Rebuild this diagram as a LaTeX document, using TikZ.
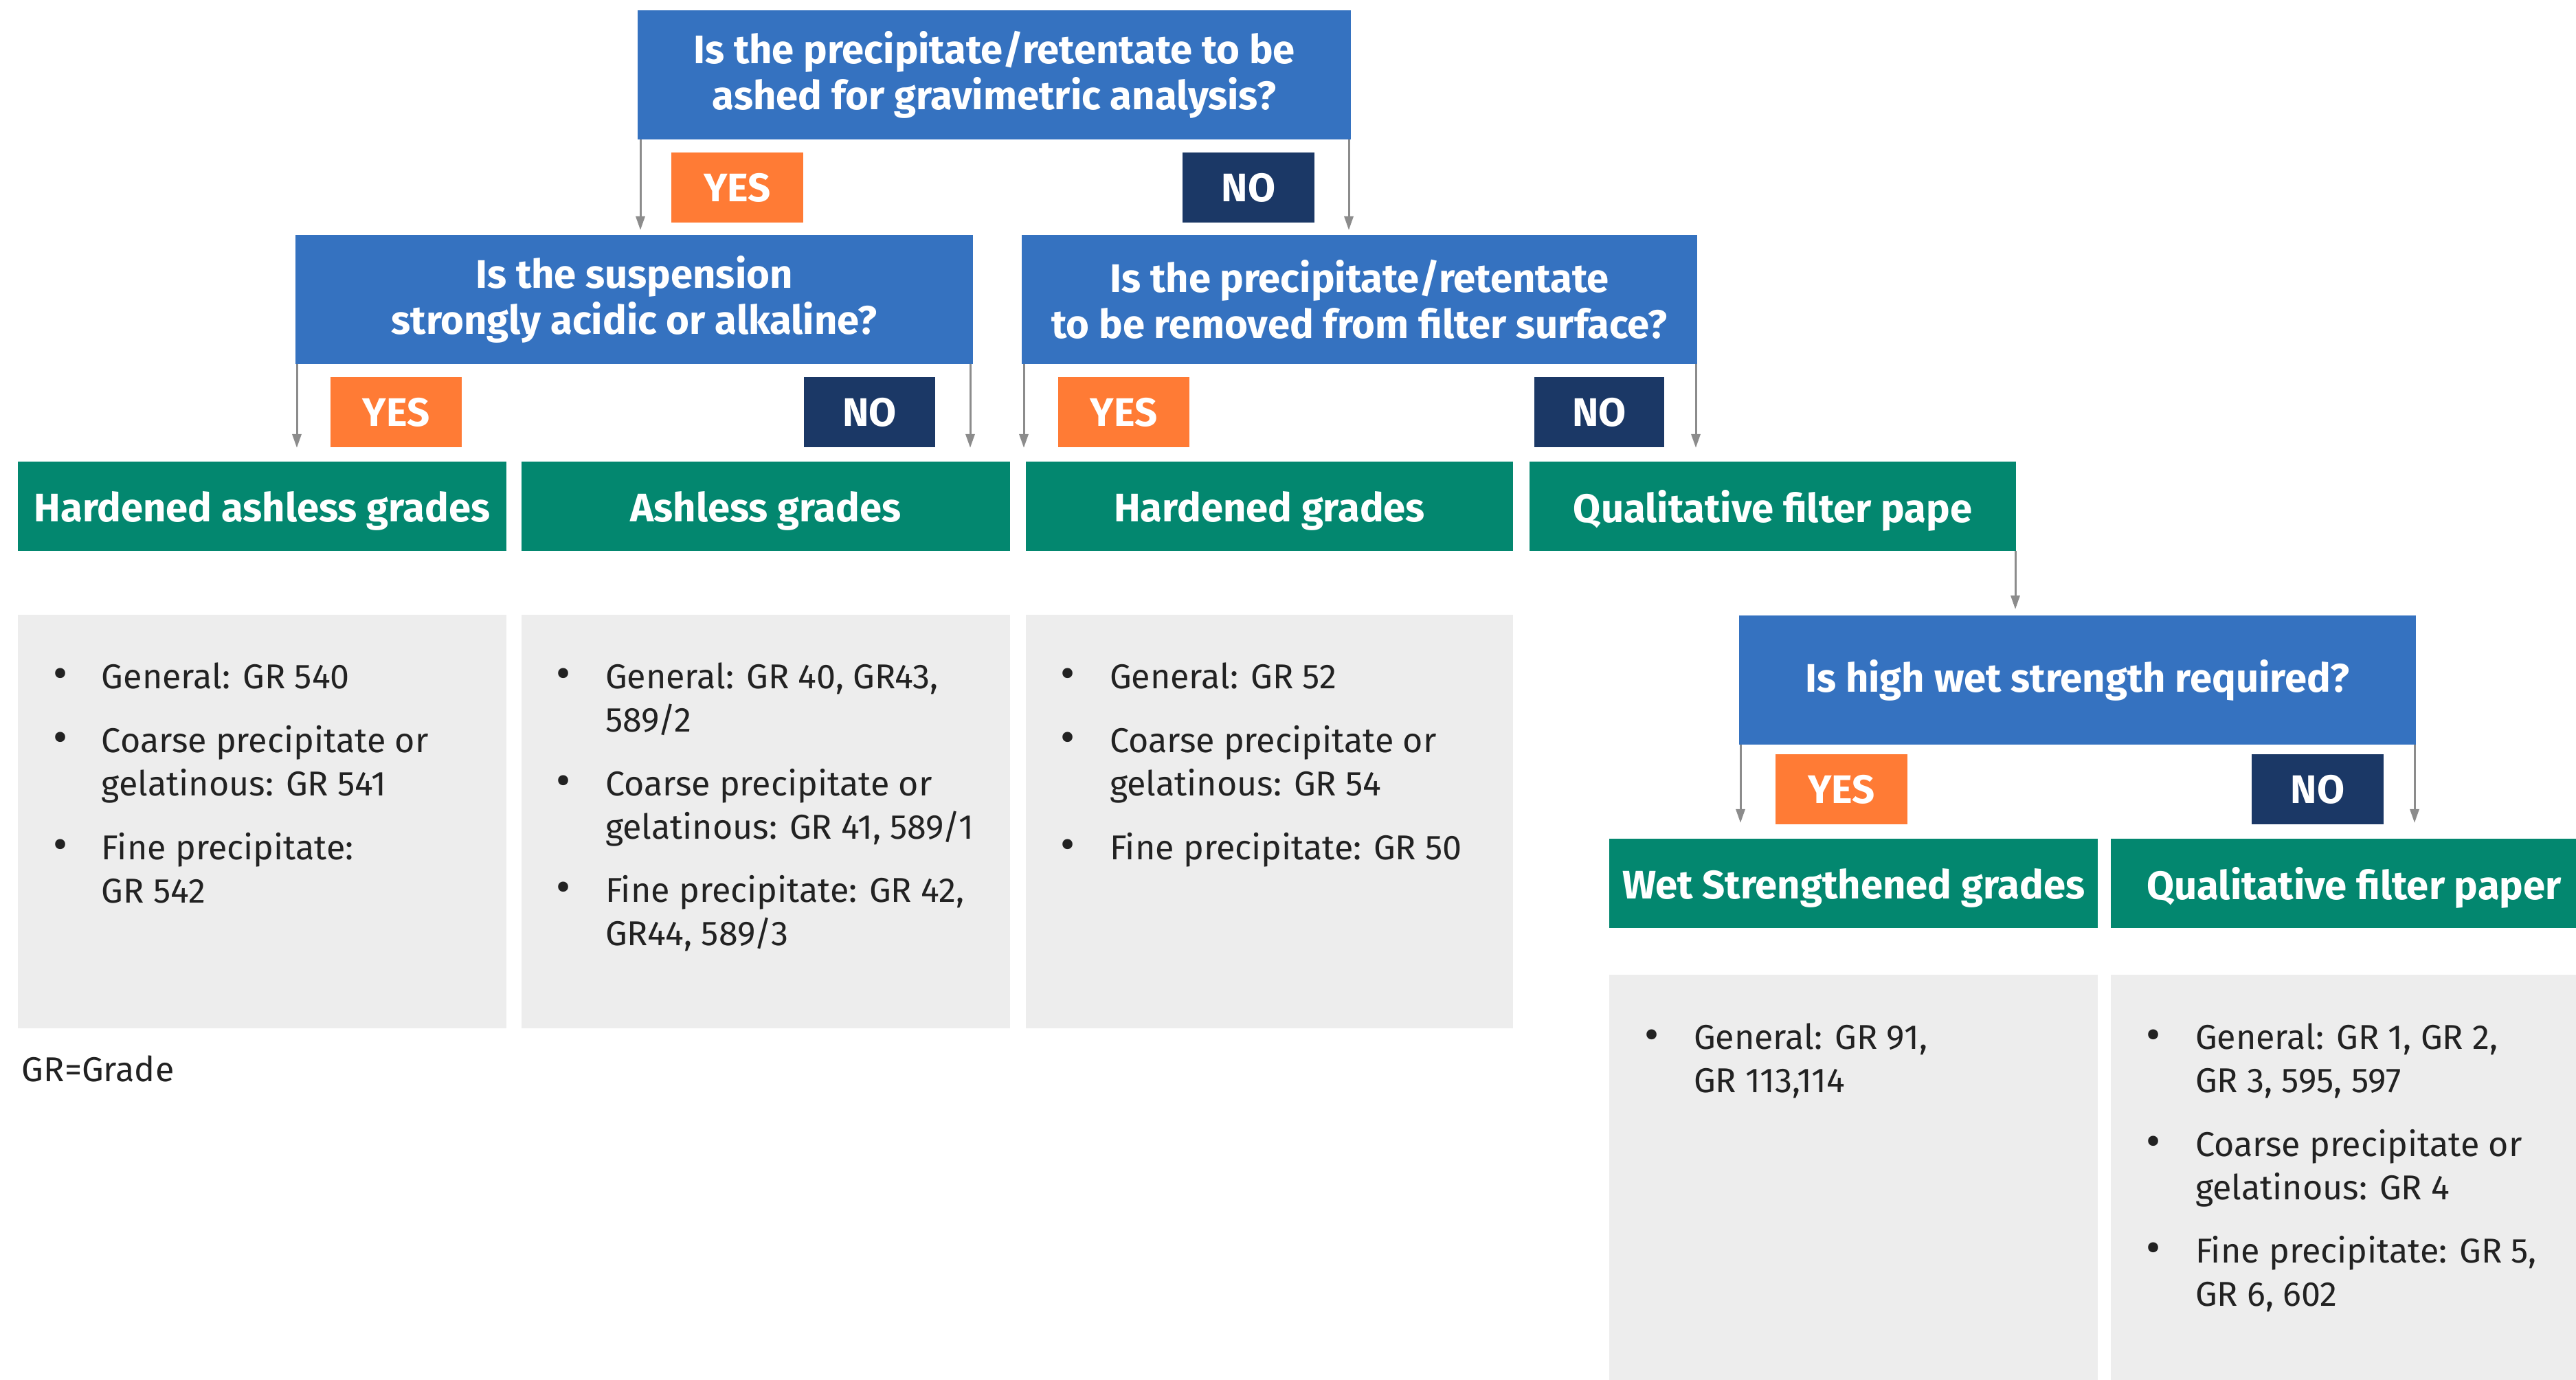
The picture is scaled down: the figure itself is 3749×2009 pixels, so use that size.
\documentclass[tikz,border=0pt]{standalone}
\usepackage{fontspec}
\setmainfont{Fira Sans}
\usetikzlibrary{arrows.meta}
\definecolor{qblue}{HTML}{3572C0}
\definecolor{yorange}{HTML}{FF7B35}
\definecolor{nnavy}{HTML}{1B3866}
\definecolor{ggreen}{HTML}{03876F}
\definecolor{lgray}{HTML}{EDEDED}
\definecolor{agray}{HTML}{8C8C8C}
\definecolor{txt}{HTML}{222222}
\newcommand\bx[7]{\node[#6,minimum width={(#4-#2)*0.2pt},minimum height={(#5-#3)*0.2pt}] (#1) at ({(#2+#4)/2},{(#3+#5)/2}) {#7};}
\newcommand\hfont{\fontsize{11.6}{13.4}\selectfont\bfseries}
\newcommand\bfont{\fontsize{10.05}{12.6}\selectfont}
\newcommand\dotfont{\fontsize{13}{12.6}\selectfont}
\tikzset{
  base/.style={rectangle, inner sep=0pt, outer sep=0pt},
  qbox/.style={base, fill=qblue, text=white, font=\hfont, align=center},
  yesbox/.style={base, fill=yorange, text=white, font=\hfont},
  nobox/.style={base, fill=nnavy, text=white, font=\hfont},
  gbox/.style={base, fill=ggreen, text=white, font=\hfont, text depth=0pt},
  panel/.style={base, fill=lgray},
  arr/.style={draw=agray, line width=0.6pt, -{Triangle[width=2.6pt,length=4pt]}},
  bul/.style={anchor=base, inner sep=0pt, text=txt, font=\dotfont},
  itm/.style={anchor=base west, inner sep=0pt, text=txt, align=left, font=\bfont},
}
\begin{document}
\begin{tikzpicture}[x=0.2pt,y=-0.2pt]
\useasboundingbox (0,0) rectangle (3749,2009);
% questions
\bx{q1}{928}{15}{1966}{203}{qbox}{Is the precipitate/retentate to be\\ashed for gravimetric analysis?}
\bx{q2}{430}{342}{1416}{530}{qbox}{Is the suspension\\strongly acidic or alkaline?}
\bx{q3}{1487}{342}{2470}{530}{qbox}{Is the precipitate/retentate\\to be removed from filter surface?}
\bx{q4}{2531}{896}{3516}{1084}{qbox}{Is high wet strength required?}
% yes / no labels
\bx{y1}{977}{222}{1169}{324}{yesbox}{YES}
\bx{n1}{1721}{222}{1913}{324}{nobox}{NO}
\bx{y2}{481}{549}{672}{651}{yesbox}{YES}
\bx{n2}{1170}{549}{1361}{651}{nobox}{NO}
\bx{y3}{1540}{549}{1731}{651}{yesbox}{YES}
\bx{n3}{2233}{549}{2422}{651}{nobox}{NO}
\bx{y4}{2584}{1098}{2776}{1200}{yesbox}{YES}
\bx{n4}{3277}{1098}{3469}{1200}{nobox}{NO}
% green result boxes
\bx{g1}{26}{672}{737}{802}{gbox}{Hardened ashless grades}
\bx{g2}{759}{672}{1470}{802}{gbox}{Ashless grades}
\bx{g3}{1493}{672}{2202}{802}{gbox}{Hardened grades}
\bx{g4}{2226}{672}{2934}{802}{gbox}{Qualitative filter pape}
\bx{g5}{2342}{1221}{3053}{1351}{gbox}{Wet Strengthened grades}
\bx{g6}{3072}{1221}{3749}{1351}{gbox}{}
\node[font=\hfont, text=white, inner sep=0pt, text depth=0pt] (g6t) at (3426,1286) {Qualitative filter paper};
% panels
\bx{p1}{26}{895}{737}{1497}{panel}{}
\bx{p2}{759}{895}{1470}{1497}{panel}{}
\bx{p3}{1493}{895}{2202}{1497}{panel}{}
\bx{p5}{2342}{1419}{3053}{2009}{panel}{}
\bx{p6}{3072}{1419}{3749}{2009}{panel}{}
% arrows
\draw[arr,shorten >=1.4pt] ([xshift=0.8pt]q1.south west) -- ([xshift=0.8pt]q1.south west |- q2.north);
\draw[arr,shorten >=1.4pt] ([xshift=-0.6pt]q1.south east) -- ([xshift=-0.6pt]q1.south east |- q3.north);
\draw[arr,shorten >=4pt] ([xshift=0.4pt]q2.south west) -- ([xshift=0.4pt]q2.south west |- g1.north);
\draw[arr,shorten >=4pt] ([xshift=-0.8pt]q2.south east) -- ([xshift=-0.8pt]q2.south east |- g2.north);
\draw[arr,shorten >=4pt] ([xshift=0.6pt]q3.south west) -- ([xshift=0.6pt]q3.south west |- g3.north);
\draw[arr,shorten >=4pt] ([xshift=-0.4pt]q3.south east) -- ([xshift=-0.4pt]q3.south east |- g4.north);
\draw[arr,shorten >=1.8pt] ([xshift=-0.2pt]g4.south east) -- ([xshift=-0.2pt]g4.south east |- q4.north);
\draw[arr,shorten >=4.6pt] ([xshift=0.4pt]q4.south west) -- ([xshift=0.4pt]q4.south west |- g5.north);
\draw[arr,shorten >=4.6pt] ([xshift=-0.4pt]q4.south east) -- ([xshift=-0.4pt]q4.south east |- g6.north);
% panel 1 (item nodes are anchored at the baseline of their last line)
\node[bul] (b11) at (88,1003) {•};
\node[itm] (t11) at (147,1003) {General: GR 540};
\node[bul] (b12) at (88,1096) {•};
\node[itm] (t12) at (147,1159) {Coarse precipitate or\\gelatinous: GR 541};
\node[bul] (b13) at (88,1252) {•};
\node[itm] (t13) at (147,1315) {Fine precipitate:\\GR 542};
% panel 2
\node[bul] (b21) at (820,1003) {•};
\node[itm] (t21) at (880,1066) {General: GR 40, GR43,\\589/2};
\node[bul] (b22) at (820,1159) {•};
\node[itm] (t22) at (880,1222) {Coarse precipitate or\\gelatinous: GR 41, 589/1};
\node[bul] (b23) at (820,1314) {•};
\node[itm] (t23) at (880,1377) {Fine precipitate: GR 42,\\GR44, 589/3};
% panel 3
\node[bul] (b31) at (1554,1003) {•};
\node[itm] (t31) at (1614,1003) {General: GR 52};
\node[bul] (b32) at (1554,1096) {•};
\node[itm] (t32) at (1614,1159) {Coarse precipitate or\\gelatinous: GR 54};
\node[bul] (b33) at (1554,1252) {•};
\node[itm] (t33) at (1614,1252) {Fine precipitate: GR 50};
% panel 5
\node[bul] (b51) at (2404,1528) {•};
\node[itm] (t51) at (2464,1591) {General: GR 91,\\GR 113,114};
% panel 6
\node[bul] (b61) at (3134,1528) {•};
\node[itm] (t61) at (3194,1591) {General: GR 1, GR 2,\\GR 3, 595, 597};
\node[bul] (b62) at (3134,1683) {•};
\node[itm] (t62) at (3194,1746) {Coarse precipitate or\\gelatinous: GR 4};
\node[bul] (b63) at (3134,1838) {•};
\node[itm] (t63) at (3194,1901) {Fine precipitate: GR 5,\\GR 6, 602};
% footnote
\node[itm] (note) at (31,1575) {GR=Grade};
\end{tikzpicture}
\end{document}
